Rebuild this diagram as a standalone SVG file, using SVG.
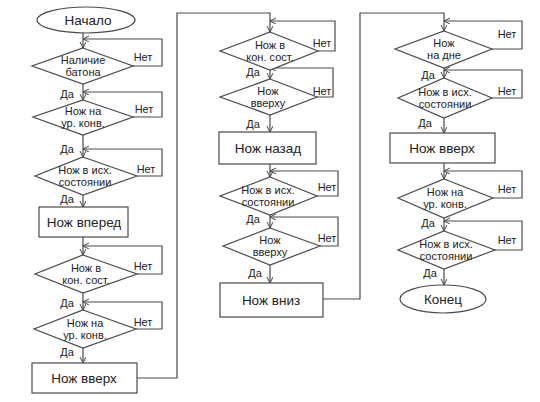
<svg xmlns="http://www.w3.org/2000/svg" width="540" height="402" viewBox="0 0 540 402">
<defs>
<marker id="arr" markerWidth="7" markerHeight="7" refX="6" refY="3" orient="auto" markerUnits="userSpaceOnUse">
<path d="M0,0 L6,3 L0,6" fill="none" stroke="#444" stroke-width="1"/>
</marker>
</defs>
<style>
.s{fill:#fff;stroke:#4a4a4a;stroke-width:1.2}
.c{fill:none;stroke:#4a4a4a;stroke-width:1.2}
.t{font-family:"Liberation Sans",Arial,sans-serif;fill:#222;text-anchor:middle}
.d{font-size:11px}
.b{font-size:13.5px}
.l{font-size:11px}
</style>
<rect width="540" height="402" fill="#fff"/>
<g id="connectors">
<path class="c" d="M83,33 V48" marker-end="url(#arr)"/>
<path class="c" d="M133,66 H162 V39 H83" marker-end="url(#arr)"/>
<path class="c" d="M83,84 V100" marker-end="url(#arr)"/>
<path class="c" d="M133,117 H162 V92 H83" marker-end="url(#arr)"/>
<path class="c" d="M83,135 V157" marker-end="url(#arr)"/>
<path class="c" d="M137,176 H162 V149 H83" marker-end="url(#arr)"/>
<path class="c" d="M83,195 V207" marker-end="url(#arr)"/>
<path class="c" d="M83,237 V255" marker-end="url(#arr)"/>
<path class="c" d="M137,274 H162 V246 H83" marker-end="url(#arr)"/>
<path class="c" d="M83,293 V310" marker-end="url(#arr)"/>
<path class="c" d="M136,329 H162 V302 H83" marker-end="url(#arr)"/>
<path class="c" d="M83,348 V363" marker-end="url(#arr)"/>
<path class="c" d="M137,378 H177 V13 H270 V32" marker-end="url(#arr)"/>
<path class="c" d="M318,51 H335 V21 H270" marker-end="url(#arr)"/>
<path class="c" d="M270,70 V79" marker-end="url(#arr)"/>
<path class="c" d="M317,97 H333 V68 H270" marker-end="url(#arr)"/>
<path class="c" d="M270,115 V132" marker-end="url(#arr)"/>
<path class="c" d="M270,164 V177" marker-end="url(#arr)"/>
<path class="c" d="M317,196 H338 V171 H270" marker-end="url(#arr)"/>
<path class="c" d="M270,215 V228" marker-end="url(#arr)"/>
<path class="c" d="M320,246 H338 V217 H270" marker-end="url(#arr)"/>
<path class="c" d="M270,265 V283" marker-end="url(#arr)"/>
<path class="c" d="M323,299 H360 V13 H444 V31" marker-end="url(#arr)"/>
<path class="c" d="M492,49 H522 V21 H444" marker-end="url(#arr)"/>
<path class="c" d="M444,68 V78" marker-end="url(#arr)"/>
<path class="c" d="M492,98 H522 V70 H444" marker-end="url(#arr)"/>
<path class="c" d="M444,118 V133" marker-end="url(#arr)"/>
<path class="c" d="M444,163 V179" marker-end="url(#arr)"/>
<path class="c" d="M493,198 H522 V171 H444" marker-end="url(#arr)"/>
<path class="c" d="M444,218 V231" marker-end="url(#arr)"/>
<path class="c" d="M495,250 H522 V221 H444" marker-end="url(#arr)"/>
<path class="c" d="M444,269 V285" marker-end="url(#arr)"/>
</g>
<g id="labels">
<text class="t l" x="143" y="61">Нет</text>
<text class="t l" x="67" y="98">Да</text>
<text class="t l" x="144" y="113">Нет</text>
<text class="t l" x="67" y="153">Да</text>
<text class="t l" x="146" y="173">Нет</text>
<text class="t l" x="67" y="203">Да</text>
<text class="t l" x="143" y="270">Нет</text>
<text class="t l" x="67" y="307">Да</text>
<text class="t l" x="143" y="326">Нет</text>
<text class="t l" x="67" y="356">Да</text>
<text class="t l" x="322" y="47">Нет</text>
<text class="t l" x="253" y="76">Да</text>
<text class="t l" x="322" y="95">Нет</text>
<text class="t l" x="253" y="128">Да</text>
<text class="t l" x="327" y="191">Нет</text>
<text class="t l" x="253" y="223">Да</text>
<text class="t l" x="327" y="242">Нет</text>
<text class="t l" x="255" y="277">Да</text>
<text class="t l" x="507" y="38">Нет</text>
<text class="t l" x="428" y="79">Да</text>
<text class="t l" x="507" y="95">Нет</text>
<text class="t l" x="425" y="127">Да</text>
<text class="t l" x="507" y="193">Нет</text>
<text class="t l" x="428" y="227">Да</text>
<text class="t l" x="507" y="244">Нет</text>
<text class="t l" x="430" y="277">Да</text>
</g>
<g id="start">
<ellipse class="s" cx="86" cy="20" rx="49" ry="13"/>
<text class="t b" x="88" y="25">Начало</text>
</g>
<g id="d1">
<polygon class="s" points="83,48 133,66 83,84 32,66"/>
<text class="t d" x="83" y="64">Наличие</text>
<text class="t d" x="83" y="76">батона</text>
</g>
<g id="d2">
<polygon class="s" points="83,100 133,117 83,135 33,117"/>
<text class="t d" x="83" y="115">Нож на</text>
<text class="t d" x="83" y="127">ур. конв.</text>
</g>
<g id="d3">
<polygon class="s" points="83,157 137,176 83,195 35,176"/>
<text class="t d" x="85" y="174">Нож в исх.</text>
<text class="t d" x="85" y="186">состоянии</text>
</g>
<g id="r1">
<rect class="s" x="39" y="207" width="89" height="30"/>
<text class="t b" x="84" y="227">Нож вперед</text>
</g>
<g id="d4">
<polygon class="s" points="83,255 137,274 83,293 35,274"/>
<text class="t d" x="86" y="272">Нож в</text>
<text class="t d" x="86" y="284">кон. сост.</text>
</g>
<g id="d5">
<polygon class="s" points="83,310 136,329 83,348 34,329"/>
<text class="t d" x="85" y="327">Нож на</text>
<text class="t d" x="85" y="339">ур. конв.</text>
</g>
<g id="r2">
<rect class="s" x="32" y="363" width="105" height="30"/>
<text class="t b" x="84" y="383">Нож вверх</text>
</g>
<g id="d6">
<polygon class="s" points="270,32 318,51 270,70 220,51"/>
<text class="t d" x="270" y="49">Нож в</text>
<text class="t d" x="270" y="61">кон. сост.</text>
</g>
<g id="d7">
<polygon class="s" points="270,79 317,97 270,115 220,97"/>
<text class="t d" x="268" y="95">Нож</text>
<text class="t d" x="268" y="107">вверху</text>
</g>
<g id="r3">
<rect class="s" x="219" y="132" width="97" height="32"/>
<text class="t b" x="268" y="153">Нож назад</text>
</g>
<g id="d8">
<polygon class="s" points="270,177 317,196 270,215 220,196"/>
<text class="t d" x="268" y="194">Нож в исх.</text>
<text class="t d" x="268" y="206">состоянии</text>
</g>
<g id="d9">
<polygon class="s" points="270,228 320,246 270,265 223,246"/>
<text class="t d" x="270" y="244">Нож</text>
<text class="t d" x="270" y="256">вверху</text>
</g>
<g id="r4">
<rect class="s" x="220" y="283" width="103" height="34"/>
<text class="t b" x="271" y="305">Нож вниз</text>
</g>
<g id="d10">
<polygon class="s" points="444,31 492,49 444,68 395,49"/>
<text class="t d" x="444" y="47">Нож</text>
<text class="t d" x="444" y="59">на дне</text>
</g>
<g id="d11">
<polygon class="s" points="444,78 492,98 444,118 398,98"/>
<text class="t d" x="445" y="96">Нож в исх.</text>
<text class="t d" x="445" y="108">состоянии</text>
</g>
<g id="r5">
<rect class="s" x="390" y="133" width="105" height="30"/>
<text class="t b" x="442" y="153">Нож вверх</text>
</g>
<g id="d12">
<polygon class="s" points="444,179 493,198 444,218 398,198"/>
<text class="t d" x="445" y="196">Нож на</text>
<text class="t d" x="445" y="208">ур. конв.</text>
</g>
<g id="d13">
<polygon class="s" points="444,231 495,250 444,269 398,250"/>
<text class="t d" x="446" y="248">Нож в исх.</text>
<text class="t d" x="446" y="260">состоянии</text>
</g>
<g id="end">
<ellipse class="s" cx="443" cy="299" rx="43" ry="14"/>
<text class="t b" x="443" y="304">Конец</text>
</g>
</svg>
